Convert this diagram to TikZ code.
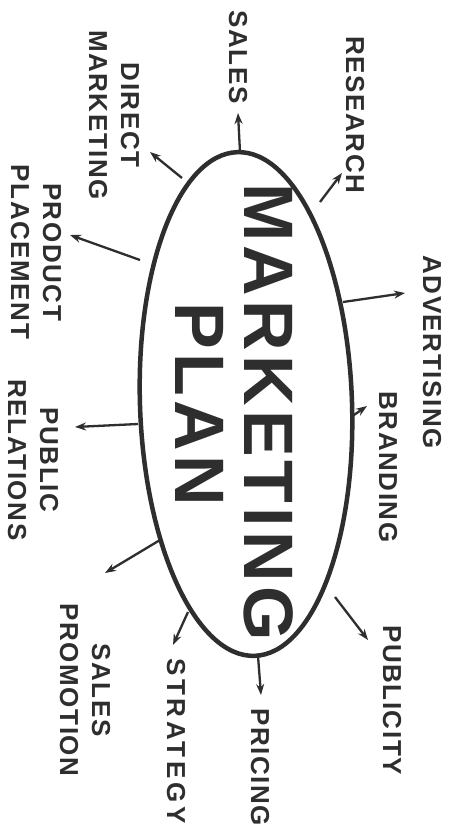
\documentclass[tikz,border=0pt]{standalone}
\usepackage{fontspec}
\setmainfont{Liberation Sans}
\newfontfamily\handfont[LetterSpace=6]{Liberation Sans}
\usetikzlibrary{arrows.meta,shapes.geometric}
\definecolor{ink}{HTML}{2E2E2E}
\begin{document}
\begin{tikzpicture}[x=1pt,y=1pt,
  lbl/.style={font=\handfont\bfseries\fontsize{26}{32}\selectfont, text=ink, rotate=-90, align=center, inner sep=0pt},
  big/.style={font=\handfont\bfseries\fontsize{70}{80}\selectfont, text=ink, rotate=-90, inner sep=0pt},
  arr/.style={draw=ink, line width=2.3pt, -{Stealth[length=11pt,width=8pt]}}]
\useasboundingbox[fill=white] (0,0) rectangle (461,-831);
\node[ellipse, draw=ink, line width=4.5pt, minimum width=212pt, minimum height=504pt, rotate=2, inner sep=0pt] (plan) at (246,-404) {};
\node[big] (mk) at (269,-412) {MARKETING};
\node[big] (pl) at (200,-404) {PLAN};
% labels
\node[lbl] (sales) at (238,-57) {SALES};
\node[lbl] (research) at (355,-115) {RESEARCH};
\node[lbl] (direct) at (114,-115) {DIRECT\\MARKETING};
\node[lbl] (product) at (36,-252) {PRODUCT\\PLACEMENT};
\node[lbl] (advert) at (432,-352) {ADVERTISING};
\node[lbl] (brand) at (388,-467) {BRANDING};
\node[lbl] (public) at (33,-460) {PUBLIC\\RELATIONS};
\node[lbl] (promo) at (85,-690) {SALES\\PROMOTION};
\node[lbl, font=\addfontfeatures{LetterSpace=14}\bfseries\fontsize{26}{32}\selectfont] (strat) at (176,-741) {STRATEGY};
\node[lbl] (price) at (260,-767) {PRICING};
\node[lbl] (publ) at (392,-700) {PUBLICITY};
% arrow ends
\coordinate (s1) at (240,-152); \coordinate (t1) at (238,-113);
\coordinate (s2) at (320,-202); \coordinate (t2) at (342,-173);
\coordinate (s3) at (182,-178); \coordinate (t3) at (150,-152);
\coordinate (s4) at (140,-260); \coordinate (t4) at (70,-235);
\coordinate (s5) at (343,-302); \coordinate (t5) at (405,-293);
\coordinate (s6) at (351,-417); \coordinate (t6) at (367,-406);
\coordinate (s7) at (138,-424); \coordinate (t7) at (75,-427);
\coordinate (s8) at (160,-540); \coordinate (t8) at (105,-573);
\coordinate (s9) at (188,-612); \coordinate (t9) at (173,-645);
\coordinate (s10) at (258,-656); \coordinate (t10) at (261,-695);
\coordinate (s11) at (335,-597); \coordinate (t11) at (368,-640);
\foreach \i in {1,...,11} {\draw[arr] (s\i) -- (t\i);}
\end{tikzpicture}
\end{document}
